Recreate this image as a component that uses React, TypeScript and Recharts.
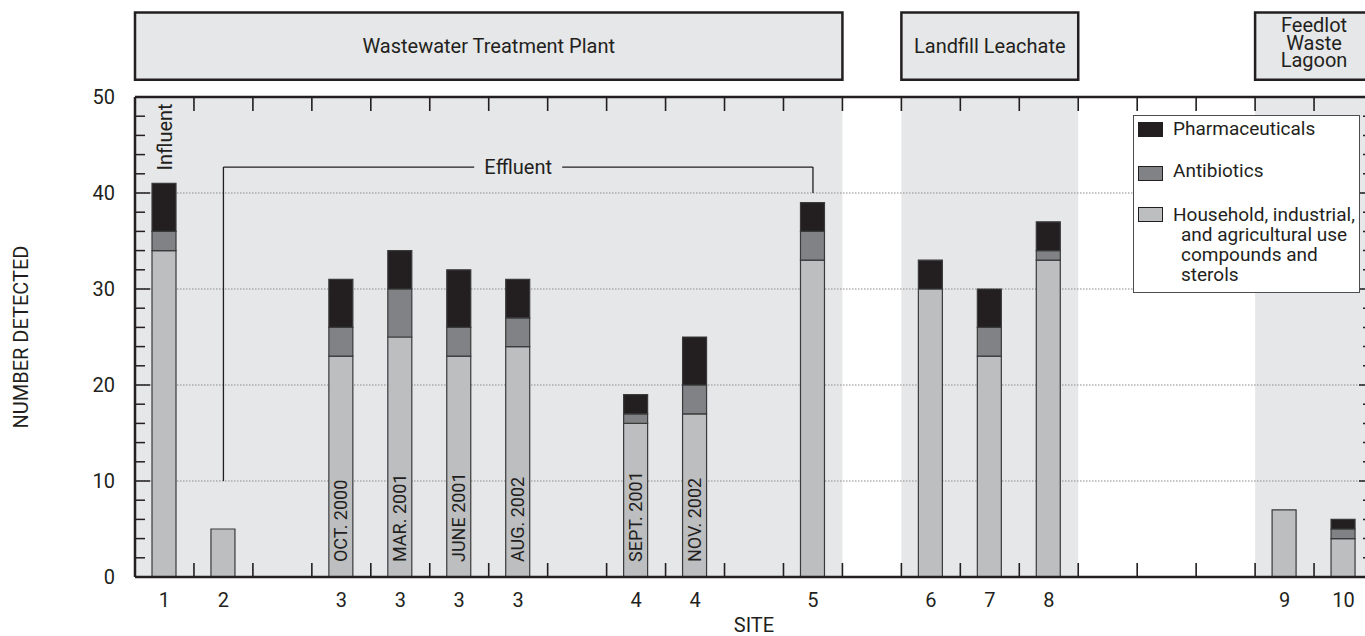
import React from "react";
import { BarChart, Bar, XAxis, YAxis, ReferenceArea, ReferenceLine, LabelList, Legend } from "recharts";

const INK = "#231f20";
const PANEL = "#e6e7e8";
const FONT = "Roboto, 'Liberation Sans', sans-serif";
const FS = 20;

// one slot per column of the figure; empty labels are the gaps between sites
const siteLabels = ["1", "2", "", "3", "3", "3", "3", "", "4", "4", "", "5", "", "6", "7", "8", "", "", "", "9", "10"];
const household = [34, 5, null, 23, 25, 23, 24, null, 16, 17, null, 33, null, 30, 23, 33, null, null, null, 7, 4];
const antibiotics = [2, null, null, 3, 5, 3, 3, null, 1, 3, null, 3, null, null, 3, 1, null, null, null, null, 1];
const pharmaceuticals = [5, null, null, 5, 4, 6, 4, null, 2, 5, null, 3, null, 3, 4, 3, null, null, null, null, 1];
const sampleDates = ["", "", "", "OCT. 2000", "MAR. 2001", "JUNE 2001", "AUG. 2002", "", "SEPT. 2001", "NOV. 2002", "", "", "", "", "", "", "", "", "", "", ""];
const notes = ["Influent", "", "", "", "", "", "", "", "", "", "", "", "", "", "", "", "", "", "", "", ""];

const groupLabels = [["Wastewater Treatment Plant"], ["Landfill Leachate"], ["Feedlot", "Waste", "Lagoon"]];
const groupFirst = [0, 13, 19];
const groupLast = [11, 15, 20];

const legendLabels = [["Pharmaceuticals"], ["Antibiotics"], ["Household, industrial,", "and agricultural use", "compounds and", "sterols"]];
const legendColors = [INK, "#808285", "#bcbec0"];

const yTicks = [0, 2, 4, 6, 8, 10, 12, 14, 16, 18, 20, 22, 24, 26, 28, 30, 32, 34, 36, 38, 40, 42, 44, 46, 48, 50];
const gridValues = [10, 20, 30, 40];

// effluent bracket: from site 2 to site 5, legs drop to these levels
const effluentFrom = 1;
const effluentTo = 11;
const effluentLevel = 42.7;
const effluentLegs = [10, 40];

// header boxes sit above the plot, in y units
const headerLow = 51.8;
const headerHigh = 58.8;

// plot box: margins plus a 1px axis on each side
const PLOT_LEFT = 135;
const PLOT_RIGHT = 1373;
const PLOT_TOP = 97;
const PLOT_BOTTOM = 577;

const rows = siteLabels.map((site, i) => ({
  key: `s${i}`,
  site,
  household: household[i],
  antibiotics: antibiotics[i],
  pharmaceuticals: pharmaceuticals[i],
  date: sampleDates[i],
  note: notes[i],
}));

// band scale without padding: slot k ends at left + (k + 1) * band
const BAND = (PLOT_RIGHT - PLOT_LEFT) / rows.length;
const edgePath = rows
  .slice(0, -1)
  .map((_, k) => {
    const ex = PLOT_LEFT + (k + 1) * BAND;
    return `M${ex},${PLOT_TOP}V${PLOT_TOP + 14}M${ex},${PLOT_BOTTOM}V${PLOT_BOTTOM - 14}`;
  })
  .join("");

const LeftTick = (props: any) => {
  const x = Number(props.x);
  const y = Number(props.y);
  const v = props.payload.value;
  const major = v % 10 === 0;
  const len = v === 0 || v === 50 ? 0 : major ? 15 : 10;
  return (
    <g>
      {len > 0 && <line x1={x} y1={y} x2={x + len} y2={y} stroke={INK} strokeWidth={1.5} />}
      {major && (
        <text x={x - 20} y={y} dy="0.36em" textAnchor="end" fontSize={FS} fill={INK} fontFamily={FONT}>
          {v}
        </text>
      )}
    </g>
  );
};

const RightTick = (props: any) => {
  const x = Number(props.x);
  const y = Number(props.y);
  const v = props.payload.value;
  const len = v === 0 || v === 50 ? 0 : v % 10 === 0 ? 14 : 10;
  if (!len) return <g />;
  return <line x1={x} y1={y} x2={x - len} y2={y} stroke={INK} strokeWidth={1.5} />;
};

const BottomTick = (props: any) => {
  const x = Number(props.x);
  const y = Number(props.y);
  const i = props.index ?? props.payload?.index;
  return (
    <text x={x} y={y + 30} textAnchor="middle" fontSize={FS} fill={INK} fontFamily={FONT}>
      {siteLabels[i]}
    </text>
  );
};

const renderHeader = (lines: string[]) => (props: any) => {
  const vb = props.viewBox || {};
  const cx = vb.x + vb.width / 2;
  const lh = 17.5;
  const cy = vb.y + vb.height / 2 - (lines.length > 1 ? 3.5 : 0);
  const first = cy - ((lines.length - 1) * lh) / 2;
  return (
    <text textAnchor="middle" fontSize={FS} fill={INK} fontFamily={FONT}>
      {lines.map((t, i) => (
        <tspan key={i} x={cx} y={first + i * lh} dy="0.36em">
          {t}
        </tspan>
      ))}
    </text>
  );
};

const renderEffluent = (props: any) => {
  const vb = props.viewBox || {};
  const cx = vb.x + (vb.width || 0) / 2;
  const cy = vb.y + (vb.height || 0) / 2;
  return (
    <g>
      <rect x={cx - 44} y={cy - 11} width={88} height={22} fill={PANEL} />
      <text x={cx} y={cy} dy="0.36em" textAnchor="middle" fontSize={FS} fill={INK} fontFamily={FONT}>
        Effluent
      </text>
    </g>
  );
};

const renderDate = (props: any) => {
  const { x, y, width, height, value } = props;
  if (!value) return null;
  const cx = x + width / 2;
  const by = y + height - 15;
  return (
    <text x={cx} y={by} dy="0.36em" transform={`rotate(-90 ${cx} ${by})`} fontSize={18} fill={INK} fontFamily={FONT}>
      {value}
    </text>
  );
};

const renderNote = (props: any) => {
  const { x, y, width, value } = props;
  if (!value) return null;
  const cx = x + width / 2 + 1;
  const by = y - 13;
  return (
    <text x={cx} y={by} dy="0.36em" transform={`rotate(-90 ${cx} ${by})`} fontSize={FS} fill={INK} fontFamily={FONT}>
      {value}
    </text>
  );
};

const renderYLabel = (props: any) => {
  const vb = props.viewBox || {};
  const cy = vb.height ? vb.y + vb.height / 2 : 337;
  return (
    <text x={28} y={cy} transform={`rotate(-90 28 ${cy})`} textAnchor="middle" fontSize={FS} fill={INK} fontFamily={FONT}>
      NUMBER DETECTED
    </text>
  );
};

function LegendBox() {
  const swatchTop = [6, 50, 91];
  const textTop = [3, 45, 89];
  return (
    <div
      style={{
        position: "relative",
        width: 227,
        height: 178,
        boxSizing: "border-box",
        border: "1px solid #4d4d4f",
        background: "#fff",
        fontFamily: FONT,
        fontSize: 19,
        color: INK,
      }}
    >
      {legendLabels.map((lines, i) => (
        <React.Fragment key={i}>
          <div
            style={{
              position: "absolute",
              left: 4,
              top: swatchTop[i],
              width: 25,
              height: 15,
              boxSizing: "border-box",
              background: legendColors[i],
              border: `1px solid ${INK}`,
            }}
          />
          <div style={{ position: "absolute", left: 39, top: textTop[i], lineHeight: "20px", whiteSpace: "nowrap" }}>
            {lines.map((t, j) => (
              <div key={j} style={{ paddingLeft: j ? 8 : 0 }}>
                {t}
              </div>
            ))}
          </div>
        </React.Fragment>
      ))}
    </div>
  );
}

export default function App() {
  return (
    <div style={{ position: "absolute", left: 0, top: 0, width: 1365, height: 636, overflow: "hidden", background: "#fff", fontFamily: FONT }}>
      <BarChart width={1400} height={636} data={rows} margin={{ top: 96, right: 26, bottom: 58, left: 134 }}>
        <XAxis
          xAxisId="cat"
          dataKey="key"
          type="category"
          interval={0}
          height={1}
          tickSize={0}
          tickMargin={0}
          tickLine={false}
          axisLine={{ stroke: INK, strokeWidth: 2.5 }}
          tick={(p: any) => <BottomTick {...p} />}
          label={{ value: "SITE", position: "bottom", offset: 40, fill: INK, fontSize: FS, fontFamily: FONT }}
        />
        <XAxis
          xAxisId="catTop"
          dataKey="key"
          type="category"
          orientation="top"
          interval={0}
          height={1}
          tickSize={0}
          tickMargin={0}
          tickLine={false}
          axisLine={{ stroke: INK, strokeWidth: 2.5 }}
          tick={false}
        />
        <YAxis
          yAxisId="left"
          type="number"
          domain={[0, 50]}
          allowDataOverflow
          ticks={yTicks}
          interval={0}
          width={1}
          tickSize={0}
          tickMargin={0}
          tickLine={false}
          axisLine={{ stroke: INK, strokeWidth: 2.5 }}
          tick={(p: any) => <LeftTick {...p} />}
          label={renderYLabel}
        />
        <YAxis
          yAxisId="right"
          orientation="right"
          type="number"
          domain={[0, 50]}
          allowDataOverflow
          ticks={yTicks}
          interval={0}
          width={1}
          tickSize={0}
          tickMargin={0}
          tickLine={false}
          axisLine={{ stroke: INK, strokeWidth: 2.5 }}
          tick={(p: any) => <RightTick {...p} />}
        />

        {groupFirst.map((f, i) => (
          <ReferenceArea
            key={`shade-${i}`}
            xAxisId="cat"
            yAxisId="left"
            x1={`s${f}`}
            x2={`s${groupLast[i]}`}
            y1={0}
            y2={50}
            fill={PANEL}
            fillOpacity={1}
            stroke="none"
            zIndex={-200}
          />
        ))}

        {gridValues.map((v) => (
          <ReferenceLine
            key={`grid-${v}`}
            xAxisId="cat"
            yAxisId="left"
            y={v}
            stroke="#8a8a8c"
            strokeWidth={1}
            strokeDasharray="1.5 1.5"
            zIndex={-150}
          />
        ))}

        {groupFirst.map((f, i) => (
          <ReferenceArea
            key={`head-${i}`}
            xAxisId="cat"
            yAxisId="left"
            x1={`s${f}`}
            x2={`s${groupLast[i]}`}
            y1={headerLow}
            y2={headerHigh}
            ifOverflow="visible"
            fill={PANEL}
            fillOpacity={1}
            stroke={INK}
            strokeWidth={2.5}
            label={renderHeader(groupLabels[i])}
          />
        ))}

        <ReferenceLine
          xAxisId="cat"
          yAxisId="left"
          ifOverflow="visible"
          segment={[
            { x: `s${effluentFrom}`, y: effluentLevel },
            { x: `s${effluentTo}`, y: effluentLevel },
          ]}
          stroke={INK}
          strokeWidth={1.3}
          label={renderEffluent}
        />
        <ReferenceLine
          xAxisId="cat"
          yAxisId="left"
          ifOverflow="visible"
          segment={[
            { x: `s${effluentFrom}`, y: effluentLevel },
            { x: `s${effluentFrom}`, y: effluentLegs[0] },
          ]}
          stroke={INK}
          strokeWidth={1.3}
        />
        <ReferenceLine
          xAxisId="cat"
          yAxisId="left"
          ifOverflow="visible"
          segment={[
            { x: `s${effluentTo}`, y: effluentLevel },
            { x: `s${effluentTo}`, y: effluentLegs[1] },
          ]}
          stroke={INK}
          strokeWidth={1.3}
        />

        <Bar xAxisId="cat" yAxisId="left" dataKey="household" stackId="a" barSize={24} fill="#bcbec0" stroke="#3a3a3b" strokeWidth={1.2} isAnimationActive={false}>
          <LabelList dataKey="date" content={renderDate} />
        </Bar>
        <Bar xAxisId="cat" yAxisId="left" dataKey="antibiotics" stackId="a" barSize={24} fill="#808285" stroke="#3a3a3b" strokeWidth={1.2} isAnimationActive={false} />
        <Bar xAxisId="cat" yAxisId="left" dataKey="pharmaceuticals" stackId="a" barSize={24} fill={INK} stroke="#3a3a3b" strokeWidth={1.2} isAnimationActive={false}>
          <LabelList dataKey="note" content={renderNote} />
        </Bar>

        <Legend
          layout="vertical"
          align="center"
          verticalAlign="middle"
          content={() => <LegendBox />}
          wrapperStyle={{ left: 1133, top: 115, width: 227, height: 178 }}
        />
      </BarChart>
      {/* slot-edge ticks along the top and bottom borders */}
      <svg width={1365} height={636} style={{ position: "absolute", left: 0, top: 0, pointerEvents: "none" }}>
        <path d={edgePath} stroke={INK} strokeWidth={1.6} fill="none" />
      </svg>
    </div>
  );
}
